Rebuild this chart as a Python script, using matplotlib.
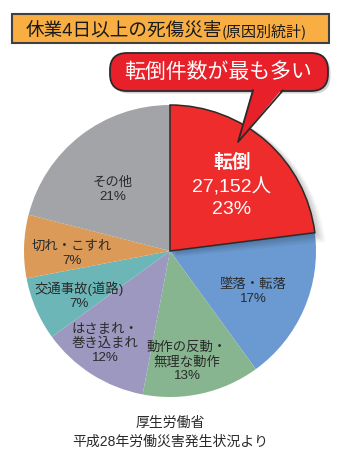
import matplotlib
matplotlib.use("Agg")
import matplotlib.pyplot as plt
from matplotlib.patches import Wedge, Rectangle, FancyBboxPatch, Polygon
from matplotlib.lines import Line2D

FAM = ['Liberation Sans', 'Noto Sans CJK JP', 'DejaVu Sans']
plt.rcParams['font.family'] = FAM

# ---- data ----
categories = ["転倒", "墜落・転落", "動作の反動・\n無理な動作", "はさまれ・\n巻き込まれ",
              "交通事故(道路)", "切れ・こすれ", "その他"]
shares = [23, 17, 13, 12, 7, 7, 21]
colors = ["#EE2C2C", "#6A9AD1", "#87B58F", "#9C98BF", "#6DB6B7", "#DB9A58", "#A3A4A7"]
top_count_label = "27,152人"
title_main = "休業4日以上の死傷災害"
title_sub = "(原因別統計)"
callout = "転倒件数が最も多い"
source_lines = ["厚生労働省", "平成28年労働災害発生状況より"]

W, H = 348, 458
fig = plt.figure(figsize=(W / 100, H / 100), dpi=100)
ax = fig.add_axes([0, 0, 1, 1])


def Y(py):
    return H - py


cx, cy, R = 170, Y(251), 146
wedges, _ = ax.pie(shares, colors=colors, startangle=90, counterclock=False,
                   center=(cx, cy), radius=R,
                   explode=[0.008, 0, 0, 0, 0, 0, 0],
                   wedgeprops=dict(linewidth=0))
red = wedges[0]
red.set_edgecolor("#2a2a2a")
red.set_linewidth(1.1)
red.set_zorder(6)

# soft shadow under the highlighted slice
for d in [10, 8, 6.5, 5, 3.5, 2]:
    sh = Wedge((red.center[0] + d * 0.6, red.center[1] - d * 0.6), red.r + d * 0.4,
               red.theta1 - d * 0.15, red.theta2, facecolor="black", alpha=0.035,
               lw=0, zorder=4)
    ax.add_patch(sh)

# slice labels
label_pos = [None, (253, 292), (187, 362), (105, 344), (79, 296), (72, 254), (113, 190)]
for i in range(1, len(shares)):
    x, y = label_pos[i]
    ax.text(x, Y(y), f"{categories[i]}\n{shares[i]}%", ha="center", va="center",
            fontsize=9.6, color="#2a2a2a", linespacing=1.2, zorder=7)

ax.text(232, Y(163), categories[0], ha="center", va="center", fontsize=13.5,
        fontweight="bold", color="white", zorder=7)
ax.text(232, Y(187), top_count_label, ha="center", va="center", fontsize=14,
        color="white", zorder=7)
ax.text(232, Y(210), f"{shares[0]}%", ha="center", va="center", fontsize=14,
        color="white", zorder=7)

# title box
ax.add_patch(Rectangle((12, Y(43)), 317, 29, facecolor="#F8AE42",
                       edgecolor="#404040", lw=1.5, zorder=3))
ax.text(26, Y(36), title_main, ha="left", va="baseline", fontsize=13.4,
        color="#1a1a1a", zorder=4)
ax.text(222, Y(36), title_sub, ha="left", va="baseline", fontsize=10.8,
        color="#1a1a1a", zorder=4, family=['Noto Sans CJK JP', 'DejaVu Sans'])

# callout bubble
bx0, by0, bw, bh = 110, 91, 218, 38
ax.add_patch(FancyBboxPatch((bx0 + 2.5, Y(by0) - 2.5), bw, bh,
                            boxstyle="round,pad=0,rounding_size=17",
                            facecolor="black", alpha=0.18, lw=0, zorder=7))
ax.add_patch(FancyBboxPatch((bx0, Y(by0)), bw, bh,
                            boxstyle="round,pad=0,rounding_size=17",
                            facecolor="#E8202A", edgecolor="#2a2a2a", lw=1.3, zorder=8))
tail = [(253, 88), (238, 142), (283, 88)]
ax.add_patch(Polygon([(x, Y(y)) for x, y in tail], closed=True,
                     facecolor="#E8202A", lw=0, zorder=9))
ax.add_line(Line2D([253, 238, 283], [Y(90.3), Y(142), Y(90.3)], color="#2a2a2a",
                   lw=1.3, zorder=10))
ax.text(218, Y(72), callout, ha="center", va="center", fontsize=15,
        color="white", zorder=11)

# source
ax.text(170, Y(423), source_lines[0], ha="center", va="center", fontsize=10, color="#2a2a2a")
ax.text(170, Y(442), source_lines[1], ha="center", va="center", fontsize=10, color="#2a2a2a")

ax.set_xlim(0, W)
ax.set_ylim(0, H)
ax.set_aspect("auto")
ax.axis("off")
fig.savefig("out.png", dpi=100, facecolor="white")
